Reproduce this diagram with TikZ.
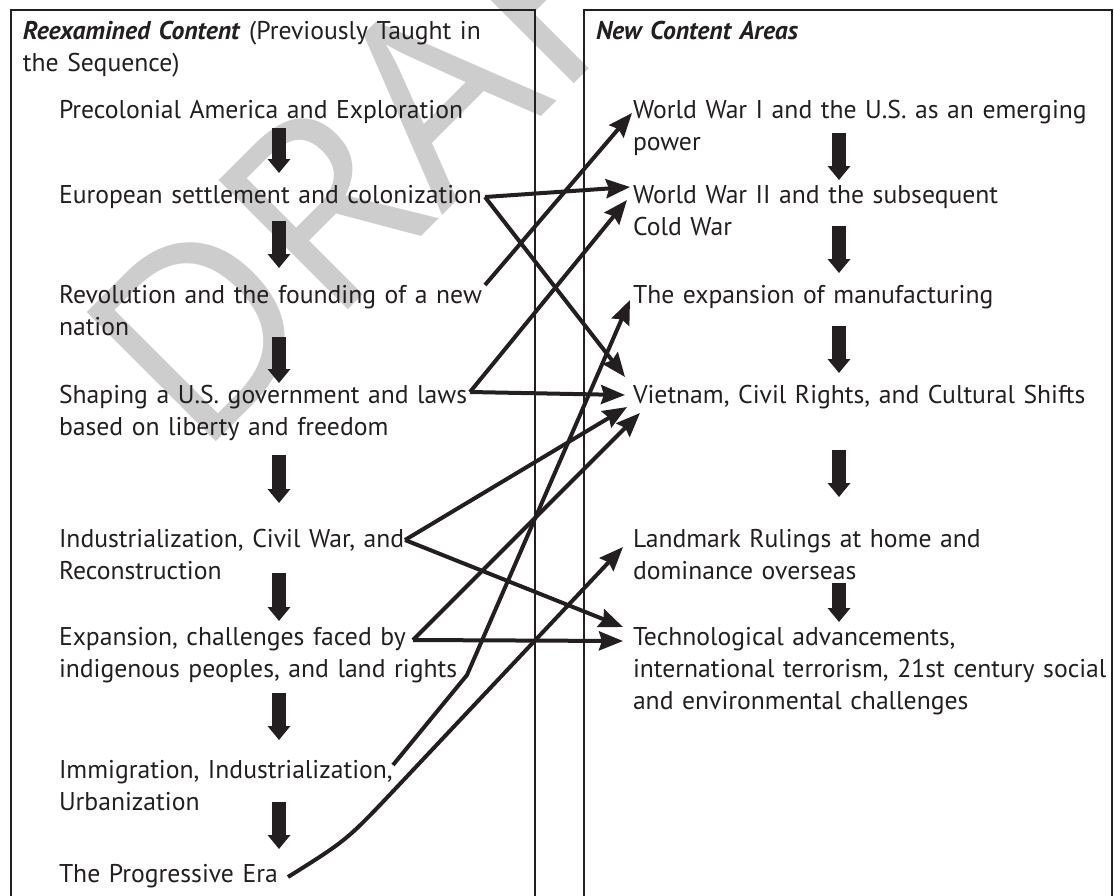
\documentclass[tikz,border=0pt]{standalone}
\usepackage{fontspec}
\usetikzlibrary{arrows.meta}
\setmainfont{PT Sans}
\newfontfamily\wmfont{Open Sans}
\definecolor{ink}{HTML}{231F20}
\definecolor{wmgray}{HTML}{CDCDCD}
\newlength\refwd

\tikzset{
  item/.style={anchor=base west, align=left, text width=260pt, inner sep=0pt, outer sep=0pt,
    text=ink, font=\fontsize{\itemsize pt}{16pt}\selectfont},
  colframe/.style={draw=ink, line width=0.9pt},
  blockarrow/.style={draw=ink, fill=ink, line width=7pt,
    -{Triangle[length=7pt,width=11pt]}},
  link/.style={draw=ink, line width=2pt,
    -{Stealth[length=12pt,width=9.5pt,inset=1.5pt]}}
}

\begin{document}
\settowidth\refwd{\fontsize{10pt}{12pt}\selectfont Precolonial America and Exploration}
\pgfmathsetmacro\itemsize{10*199.5/\refwd}
\begin{tikzpicture}[x=0.5pt, y=-0.5pt]
  \useasboundingbox (0,0) rectangle (1114,895);

  % watermark
  \begin{scope}
    \clip (0,0) rectangle (1114,895);
    \node[rotate=45, anchor=base west, inner sep=0pt, text=wmgray,
      font=\wmfont\fontsize{128pt}{128pt}\selectfont] (draft) at (198,460) {DRAFT};
  \end{scope}

  % the two columns
  \draw[colframe] (11,900) -- (11,10) -- (535,10) -- (535,900);
  \draw[colframe] (584,900) -- (584,10) -- (1112,10) -- (1112,900);

  \node[item] (headL) at (23,39) {\textbf{\textit{Reexamined Content}} (Previously Taught in\\the Sequence)};
  \node[item] (headR) at (596,39) {\textbf{\textit{New Content Areas}}};

  % previously taught
  \node[item] (pre) at (59,118) {Precolonial America and Exploration};
  \node[item] (eur) at (59,203) {European settlement and colonization};
  \node[item] (rev) at (59,303) {Revolution and the founding of a new\\nation};
  \node[item] (sha) at (59,403) {Shaping a U.S. government and laws\\based on liberty and freedom};
  \node[item] (ind) at (59,547) {Industrialization, Civil War, and\\Reconstruction};
  \node[item] (exp) at (59,645) {Expansion, challenges faced by\\indigenous peoples, and land rights};
  \node[item] (imm) at (59,778) {Immigration, Industrialization,\\Urbanization};
  \node[item] (pro) at (59,882) {The Progressive Era};

  % new content
  \node[item] (ww1) at (633,118) {World War I and the U.S. as an emerging\\power};
  \node[item] (ww2) at (633,203) {World War II and the subsequent\\Cold War};
  \node[item] (man) at (633,303) {The expansion of manufacturing};
  \node[item] (vie) at (633,403) {Vietnam, Civil Rights, and Cultural Shifts};
  \node[item] (lan) at (633,547) {Landmark Rulings at home and\\dominance overseas};
  \node[item] (tec) at (633,645) {Technological advancements,\\international terrorism, 21st century social\\and environmental challenges};

  % sequence arrows
  \draw[blockarrow] ([shift={(220,10)}]pre.base west) -- ([shift={(220,-30)}]eur.base west);
  \draw[blockarrow] ([shift={(220,18)}]eur.base west) -- ([shift={(220,-35)}]rev.base west);
  \draw[blockarrow] ([shift={(220,34)}]rev.base west) -- ([shift={(220,-20)}]sha.base west);
  \draw[blockarrow] ([shift={(220,52)}]sha.base west) -- ([shift={(220,-44)}]ind.base west);
  \draw[blockarrow] ([shift={(220,26)}]ind.base west) -- ([shift={(220,-24)}]exp.base west);
  \draw[blockarrow] ([shift={(220,48)}]exp.base west) -- ([shift={(220,-38)}]imm.base west);
  \draw[blockarrow] ([shift={(220,24)}]imm.base west) -- ([shift={(220,-33)}]pro.base west);

  \draw[blockarrow] ([shift={(206,15)}]ww1.base west) -- ([shift={(206,-23)}]ww2.base west);
  \draw[blockarrow] ([shift={(206,23)}]ww2.base west) -- ([shift={(206,-30)}]man.base west);
  \draw[blockarrow] ([shift={(206,23)}]man.base west) -- ([shift={(206,-30)}]vie.base west);
  \draw[blockarrow] ([shift={(206,47)}]vie.base west) -- ([shift={(206,-50)}]lan.base west);
  \draw[blockarrow] ([shift={(206,36)}]lan.base west) -- ([shift={(206,-23)}]tec.base west);

  % links across
  \draw[link] ([shift={(426,-6)}]eur.base west) -- ([shift={(-3,-16)}]ww2.base west);
  \draw[link] ([shift={(426,-6)}]eur.base west) -- ([shift={(-8,-26)}]vie.base west);
  \draw[link] ([shift={(426,-18)}]rev.base west) -- ([shift={(-1,-5)}]ww1.base west);
  \draw[link] ([shift={(411,-11)}]sha.base west) -- ([shift={(-6,-3)}]ww2.base west);
  \draw[link] ([shift={(411,-11)}]sha.base west) -- ([shift={(-8,-8)}]vie.base west);
  \draw[link] ([shift={(346,-7)}]ind.base west) -- ([shift={(-6,4)}]vie.base west);
  \draw[link] ([shift={(346,-7)}]ind.base west) -- ([shift={(-10,-18)}]tec.base west);
  \draw[link] ([shift={(354,-5)}]exp.base west) -- ([shift={(7,10)}]vie.base west);
  \draw[link] ([shift={(354,-5)}]exp.base west) -- ([shift={(-10,-4)}]tec.base west);
  \draw[link] ([shift={(334,-13)}]imm.base west) -- (467,675) -- ([shift={(-3,-3)}]man.base west);
  \draw[link] ([shift={(229,-5)}]pro.base west) .. controls (347,840) .. (397,787)
    -- ([shift={(-10,0)}]lan.base west);
\end{tikzpicture}
\end{document}
